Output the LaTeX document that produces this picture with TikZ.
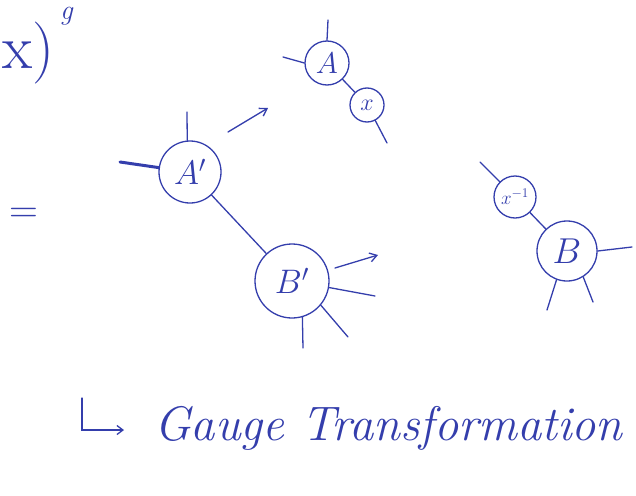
\RequirePackage{fix-cm}
\documentclass[tikz,border=0pt]{standalone}
\usepackage{tikz}
\usetikzlibrary{arrows.meta}
\definecolor{ink}{RGB}{52,62,172}
\begin{document}
\begin{tikzpicture}[x=1pt,y=-1pt,
  every node/.style={text=ink},
  inkline/.style={draw=ink,line width=1.3pt,line cap=round},
  blob/.style={circle,draw=ink,line width=1.3pt,inner sep=0pt},
  arr/.style={inkline,-{Straight Barb[length=7pt,width=9pt]}},
  lbl/.style={font=\fontsize{34}{34}\selectfont}
]
\useasboundingbox (0,0) rectangle (636,495);
% top-left fragment
\node[anchor=base west,inner sep=0pt,font=\fontsize{62}{62}\selectfont] (frag) at (2,68) {x)};
\node[anchor=base west,inner sep=0pt,font=\itshape\fontsize{28}{28}\selectfont] (sup) at (60,20) {g};
% equals
\node[font=\fontsize{40}{40}\selectfont] (eq) at (24,215) {=};

% left diagram
\node[blob,minimum size=62pt,lbl] (Ap) at (190,172) {$A'$};
\node[blob,minimum size=74pt,lbl] (Bp) at (292,281) {$B'$};
\draw[inkline] (Ap) -- (Bp);
\coordinate (apl) at (120,162);
\coordinate (apt) at (187,112);
\draw[draw=ink,line width=3pt,line cap=round] (Ap.172) -- (apl);
\draw[inkline] (Ap.95) -- (apt);
\coordinate (bpr) at (375,296);
\coordinate (bpbr) at (348,337);
\coordinate (bpb) at (303,348);
\draw[inkline] (Bp.-10) -- (bpr);
\draw[inkline] (Bp.-40) -- (bpbr);
\draw[inkline] (Bp.-74) -- (bpb);

% arrows
\coordinate (a1s) at (228,132);
\coordinate (a1e) at (268,108);
\draw[arr] (a1s) -- (a1e);
\coordinate (a2s) at (335,268);
\coordinate (a2e) at (378,255);
\draw[arr] (a2s) -- (a2e);

% top-right diagram
\node[blob,minimum size=44pt,font=\fontsize{30}{30}\selectfont] (A) at (327,63) {$A$};
\node[blob,minimum size=34pt,font=\fontsize{24}{24}\selectfont] (X) at (367,105) {$x$};
\draw[inkline] (A) -- (X);
\coordinate (at) at (328,20);
\coordinate (al) at (283,57);
\coordinate (xb) at (387,143);
\draw[inkline] (A.north) -- (at);
\draw[inkline] (A.west) -- (al);
\draw[inkline] (X.-62) -- (xb);

% right diagram
\node[blob,minimum size=42pt,font=\fontsize{19}{19}\selectfont] (Xi) at (515,197) {$x^{-1}$};
\node[blob,minimum size=60pt,font=\fontsize{36}{36}\selectfont] (B) at (567,251) {$B$};
\draw[inkline] (Xi) -- (B);
\coordinate (xil) at (480,162);
\coordinate (br) at (632,247);
\coordinate (bbl) at (547,310);
\coordinate (bbr) at (593,302);
\draw[inkline] (Xi.135) -- (xil);
\draw[inkline] (B.east) -- (br);
\draw[inkline] (B.-110) -- (bbl);
\draw[inkline] (B.-58) -- (bbr);

% bottom caption
\coordinate (h1) at (82,398);
\coordinate (h2) at (82,430);
\coordinate (h3) at (124,430);
\draw[inkline,-{Straight Barb[length=6pt,width=9pt]}] (h1) -- (h2) -- (h3);
\node[anchor=base west,inner sep=0pt,font=\itshape\fontsize{48.5}{48.5}\selectfont] (cap) at (154,440) {Gauge Transformation};
\end{tikzpicture}
\end{document}
